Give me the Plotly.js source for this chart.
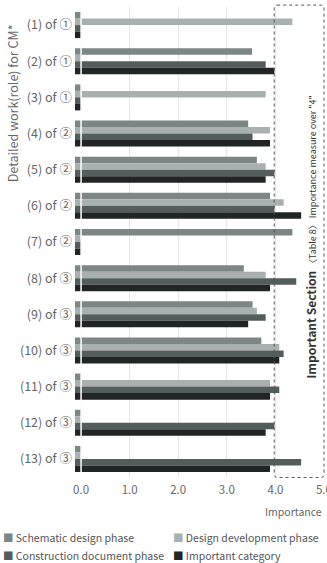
<!DOCTYPE html>
<html>
<head>
<meta charset="utf-8">
<script src="https://cdn.plot.ly/plotly-3.0.1.min.js"></script>
<style>
html,body{margin:0;padding:0;background:#fff;}
#chart{width:327px;height:563px;}
</style>
</head>
<body>
<div id="chart"></div>
<script>
const categories = ["(1) of ①","(2) of ①","(3) of ①","(4) of ②","(5) of ②","(6) of ②","(7) of ②","(8) of ③","(9) of ③","(10) of ③","(11) of ③","(12) of ③","(13) of ③"];
const schematic =    [0,    3.52, 0,    3.44, 3.62, 3.89, 4.35, 3.35, 3.53, 3.71, 0,    0,    0   ];
const design =       [4.35, 0,    3.80, 3.89, 3.80, 4.17, 0,    3.80, 3.62, 4.08, 3.89, 0,    0   ];
const construction = [0,    3.80, 0,    3.53, 3.98, 3.98, 0,    4.43, 3.80, 4.17, 4.08, 3.98, 4.53];
const important =    [0,    3.98, 0,    3.89, 3.80, 4.53, 0,    3.89, 3.44, 4.08, 3.89, 3.80, 3.89];
const seriesNames = ["Schematic design phase","Design development phase","Construction document phase","Important category"];
const xTicks = [0,1,2,3,4,5];

const colors = ["#7b8685","#a9b1b0","#535d5c","#222525"];
const BASE = -0.125;
const FONT = '"Noto Sans CJK KR", "Noto Sans", sans-serif';

const series = [schematic, design, construction, important];
const traces = series.map((vals, i) => ({
  type: 'bar',
  orientation: 'h',
  name: seriesNames[i],
  y: categories,
  x: vals.map(v => v - BASE),
  base: BASE,
  marker: {color: colors[i], line: {width: 0}},
  showlegend: false,
  hoverinfo: 'skip'
}));

function sq(c){ return '<span style="color:' + c + '">■</span>'; }

const bx0 = 0.8, bx1 = 1.0, by0 = -0.001, by1 = 1.004;
const rx = 0.012, ry = 0.007;
const boxPath = `M ${bx0+rx},${by1} L ${bx1-rx},${by1} Q ${bx1},${by1} ${bx1},${by1-ry} L ${bx1},${by0+ry} Q ${bx1},${by0} ${bx1-rx},${by0} L ${bx0+rx},${by0} Q ${bx0},${by0} ${bx0},${by0+ry} L ${bx0},${by1-ry} Q ${bx0},${by1} ${bx0+rx},${by1} Z`;

const layout = {
  width: 327, height: 563,
  margin: {l: 75, r: 3, t: 7, b: 86},
  paper_bgcolor: '#fff', plot_bgcolor: '#fff',
  font: {family: FONT, color: '#666', size: 11},
  barmode: 'group',
  bargap: 0.28,
  bargroupgap: 0,
  showlegend: false,
  xaxis: {
    range: [BASE, 5.001],
    tickvals: xTicks,
    ticktext: xTicks.map(v => v.toFixed(1)),
    showgrid: true, gridcolor: '#e6e6e6', gridwidth: 1,
    zeroline: false, showline: false, ticks: '',
    tickfont: {size: 11.5, color: '#666'},
    ticklabelstandoff: 4,
    ticklabeloverflow: 'allow',
    fixedrange: true
  },
  yaxis: {
    autorange: 'reversed',
    showgrid: false, zeroline: false, showline: false, ticks: '',
    tickfont: {size: 12.5, color: '#666'},
    ticklabelstandoff: 2,
    fixedrange: true
  },
  shapes: [
    {type: 'line', xref: 'x', yref: 'paper', x0: 0, x1: 0, y0: 0, y1: 1,
     line: {color: '#ffffff', width: 1.5}, layer: 'above'},
    {type: 'path', xref: 'paper', yref: 'paper', path: boxPath,
     line: {color: '#555', width: 1, dash: 'dot'}, layer: 'above'}
  ],
  annotations: [
    {xref: 'paper', yref: 'paper', x: -0.25, y: 0.967, xanchor: 'center', yanchor: 'top',
     text: 'Detailed work(role) for CM*', textangle: -90, showarrow: false,
     font: {size: 12.5, color: '#666'}},
    {xref: 'paper', yref: 'paper', x: 1.0, y: -0.073, xanchor: 'right', yanchor: 'middle',
     text: 'Importance', showarrow: false, font: {size: 10.5, color: '#666'}},
    {xref: 'paper', yref: 'paper', x: 0.945, y: 0.51, xanchor: 'center', yanchor: 'middle',
     text: '<b>Important Section</b> <span style="font-size:9px">〈Table 8〉 Importance measure over "4"</span>',
     textangle: -90, showarrow: false, font: {size: 12, color: '#333'}},
    {xref: 'paper', yref: 'paper', x: -0.298, y: -0.128, xanchor: 'left', yanchor: 'middle',
     text: sq(colors[0]) + ' Schematic design phase', showarrow: false, font: {size: 10.5, color: '#555'}},
    {xref: 'paper', yref: 'paper', x: 0.385, y: -0.128, xanchor: 'left', yanchor: 'middle',
     text: sq(colors[1]) + ' Design development phase', showarrow: false, font: {size: 10.5, color: '#555'}},
    {xref: 'paper', yref: 'paper', x: -0.298, y: -0.168, xanchor: 'left', yanchor: 'middle',
     text: sq(colors[2]) + ' Construction document phase', showarrow: false, font: {size: 10.5, color: '#555'}},
    {xref: 'paper', yref: 'paper', x: 0.385, y: -0.168, xanchor: 'left', yanchor: 'middle',
     text: sq(colors[3]) + ' Important category', showarrow: false, font: {size: 10.5, color: '#555'}}
  ]
};

Plotly.newPlot('chart', traces, layout, {displayModeBar: false, staticPlot: true});
</script>
</body>
</html>
